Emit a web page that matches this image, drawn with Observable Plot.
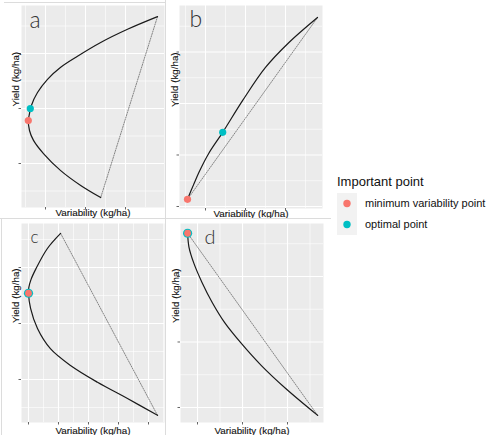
<!DOCTYPE html>
<html>
<head>
<meta charset="utf-8">
<script src="https://cdn.jsdelivr.net/npm/d3@7"></script>
<script src="https://cdn.jsdelivr.net/npm/@observablehq/plot@0.6"></script>
<style>
  html, body { margin: 0; padding: 0; background: #fff; }
  #chart { position: relative; width: 487px; height: 435px; font-family: "Liberation Sans", Arial, sans-serif; overflow: hidden; }
  .panel { position: absolute; }
  .panel svg { display: block; overflow: visible; }
  .vline { position: absolute; width: 1px; background: #dcdcdc; }
  .hline { position: absolute; height: 1px; background: #dcdcdc; }
  #legend { position: absolute; left: 337px; top: 174px; color: #111; }
  #legend .title { font-size: 13px; line-height: 16px; }
  #legend .row { position: absolute; left: 0; width: 160px; height: 21px; }
  #legend .key { position: absolute; left: 0; top: 0; width: 20px; height: 21px; background: #f2f2f2; }
  #legend .lab { position: absolute; left: 28px; top: 3px; font-size: 11px; line-height: 14px; white-space: nowrap; }
</style>
</head>
<body>
<div id="chart"></div>
<script>
// ---- Data (arbitrary units: variability on x, yield on y) ----
// Panel a
const aVariability = [2.8, 2.05, 1.38, 0.8, 0.38, 0.05, -0.2, -0.35, -0.41, -0.43, -0.4, -0.3, -0.05, 0.38, 0.88, 1.38];
const aYield       = [2.67, 2.44, 2.2, 1.95, 1.75, 1.53, 1.29, 1.06, 0.87, 0.78, 0.6, 0.42, 0.18, -0.13, -0.4, -0.62];
const aMinVar  = [-0.43, 0.78];
const aOptimal = [-0.38, 1.0];
// Panel b
const bVariability = [-0.45, -0.3, -0.16, 0.08, 0.43, 0.93, 1.5, 2.08, 2.8];
const bYield       = [0.14, 0.42, 0.67, 1.03, 1.44, 2.06, 2.7, 3.18, 3.67];
const bMinVar  = [-0.45, 0.14];
const bOptimal = [0.43, 1.44];
// Panel c
const cVariability = [1.07, 0.63, 0.25, 0.08, 0.01, 0, 0.07, 0.3, 0.73, 1.4, 2.3, 3.3, 4.3];
const cYield       = [2.61, 2.34, 1.98, 1.78, 1.64, 1.54, 1.27, 0.91, 0.55, 0.25, -0.05, -0.34, -0.64];
const cMinVar  = [0, 1.54];
const cOptimal = [0, 1.54];
// Panel d
const dVariability = [-0.22, -0.19, -0.08, 0.1, 0.33, 0.6, 0.96, 1.42, 1.96, 2.67];
const dYield       = [2.66, 2.45, 2.2, 1.91, 1.6, 1.3, 0.99, 0.64, 0.29, -0.12];
const dMinVar  = [-0.22, 2.66];
const dOptimal = [-0.22, 2.66];

// Tick values
const aXMajor = [0, 1, 2], aXMinor = [-0.5, 0.5, 1.5, 2.5];
const aYMajor = [0, 1, 2], aYMinor = [-0.5, 0.5, 1.5, 2.5];
const bXMajor = [0, 1, 2], bXMinor = [-0.5, 0.5, 1.5, 2.5];
const bYMajor = [0, 1, 2, 3], bYMinor = [0.5, 1.5, 2.5, 3.5];
const cXMajor = [0, 1, 2, 3, 4], cXMinor = [0.5, 1.5, 2.5, 3.5, 4.5];
const cYMajor = [0, 1, 2], cYMinor = [-0.5, 0.5, 1.5, 2.5];
const dXMajor = [0, 1, 2], dXMinor = [0.5, 1.5, 2.5];
const dYMajor = [0, 1, 2], dYMinor = [0.5, 1.5, 2.5];

const panelLetters = ["a", "b", "c", "d"];
const xTitle = "Variability (kg/ha)";
const yTitle = "Yield (kg/ha)";
const legendTitle = "Important point";
const legendLabels = ["minimum variability point", "optimal point"];
const colMin = "#F8766D", colOpt = "#00BFC4";

const panels = [
  {letter: panelLetters[0], vx: aVariability, vy: aYield, minVar: aMinVar, optimal: aOptimal,
   xMajor: aXMajor, xMinor: aXMinor, yMajor: aYMajor, yMinor: aYMinor,
   xDomain: [-0.6, 2.975], yDomain: [-0.8, 2.873],
   left: 0, top: 0, w: 165, h: 218, m: [5, 1, 11, 21],
   letterDx: 8, letterDy: 22, letterSize: 23, xTitleDy: 5, yTitleDx: -6, rOpt: 3.6, rMin: 3.6},
  {letter: panelLetters[1], vx: bVariability, vy: bYield, minVar: bMinVar, optimal: bOptimal,
   xMajor: bXMajor, xMinor: bXMinor, yMajor: bYMajor, yMinor: bYMinor,
   xDomain: [-0.65, 2.925], yDomain: [-0.039, 3.903],
   left: 165, top: 0, w: 165, h: 218, m: [5, 8, 10, 14],
   letterDx: 10, letterDy: 21, letterSize: 23, xTitleDy: 5, yTitleDx: -5, rOpt: 3.6, rMin: 3.6},
  {letter: panelLetters[2], vx: cVariability, vy: cYield, minVar: cMinVar, optimal: cOptimal,
   xMajor: cXMajor, xMinor: cXMinor, yMajor: cYMajor, yMinor: cYMinor,
   xDomain: [-0.233, 4.533], yDomain: [-0.768, 2.786],
   left: 0, top: 218, w: 165, h: 217, m: [5, 1, 13, 21],
   letterDx: 9, letterDy: 19, letterSize: 17, xTitleDy: 8, yTitleDx: -6, rOpt: 4.6, rMin: 3.4},
  {letter: panelLetters[3], vx: dVariability, vy: dYield, minVar: dMinVar, optimal: dOptimal,
   xMajor: dXMajor, xMinor: dXMinor, yMajor: dYMajor, yMinor: dYMinor,
   xDomain: [-0.378, 2.8], yDomain: [-0.229, 2.809],
   left: 165, top: 218, w: 165, h: 217, m: [5, 7, 13, 15],
   letterDx: 24, letterDy: 20, letterSize: 20, xTitleDy: 8, yTitleDx: -5, rOpt: 4.6, rMin: 3.4}
];

const chart = document.getElementById("chart");
const FONT = "Liberation Sans, Arial, sans-serif";

for (const p of panels) {
  const pts = p.vx.map((x, i) => ({x, y: p.vy[i]}));
  const ends = [pts[0], pts[pts.length - 1]];
  const minPt = [{x: p.minVar[0], y: p.minVar[1]}];
  const optPt = [{x: p.optimal[0], y: p.optimal[1]}];
  const svg = Plot.plot({
    width: p.w, height: p.h,
    marginTop: p.m[0], marginRight: p.m[1], marginBottom: p.m[2], marginLeft: p.m[3],
    x: {domain: p.xDomain},
    y: {domain: p.yDomain},
    style: {background: "transparent", fontFamily: FONT, overflow: "visible"},
    marks: [
      Plot.frame({fill: "#EBEBEB", stroke: "none"}),
      Plot.gridX({ticks: p.xMinor, stroke: "#ffffff", strokeOpacity: 1, strokeWidth: 0.6}),
      Plot.gridY({ticks: p.yMinor, stroke: "#ffffff", strokeOpacity: 1, strokeWidth: 0.6}),
      Plot.gridX({ticks: p.xMajor, stroke: "#ffffff", strokeOpacity: 1, strokeWidth: 1.1}),
      Plot.gridY({ticks: p.yMajor, stroke: "#ffffff", strokeOpacity: 1, strokeWidth: 1.1}),
      Plot.axisX({ticks: p.xMajor, tickSize: 2.5, tickFormat: () => "", label: null, stroke: "#666"}),
      Plot.axisY({ticks: p.yMajor, tickSize: 2.5, tickFormat: () => "", label: null, stroke: "#666"}),
      Plot.line(ends, {x: "x", y: "y", stroke: "#6a6a6a", strokeWidth: 0.8, strokeDasharray: "1.2,1.3"}),
      Plot.line(pts, {x: "x", y: "y", curve: "catmull-rom", stroke: "#1a1a1a", strokeWidth: 1.2}),
      Plot.dot(optPt, {x: "x", y: "y", r: p.rOpt, fill: colOpt, stroke: "none"}),
      Plot.dot(minPt, {x: "x", y: "y", r: p.rMin, fill: colMin, stroke: "none"}),
      Plot.text([p.letter], {frameAnchor: "top-left", dx: p.letterDx, dy: p.letterDy, textAnchor: "start",
        lineAnchor: "bottom", fontSize: p.letterSize, fontWeight: 300, fontFamily: "Lato, Liberation Sans, sans-serif", fill: "#333"}),
      Plot.text([xTitle], {frameAnchor: "bottom", dy: p.xTitleDy, lineAnchor: "middle", fontSize: 9.8,
        fill: "#111", stroke: "#111", strokeWidth: 0.12}),
      Plot.text([yTitle], {frameAnchor: "left", dx: p.yTitleDx, rotate: -90, lineAnchor: "middle", fontSize: 9.8,
        fill: "#111", stroke: "#111", strokeWidth: 0.12})
    ]
  });
  const div = document.createElement("div");
  div.className = "panel";
  div.style.left = p.left + "px";
  div.style.top = p.top + "px";
  div.appendChild(svg);
  chart.appendChild(div);
}

// faint frame lines around the sub-figures
const lines = [
  ["vline", {left: "165px", top: "0px", height: "435px"}],
  ["hline", {left: "0px", top: "218px", width: "331px"}],
  ["hline", {left: "4px", top: "2px", width: "161px"}],
  ["vline", {left: "1px", top: "218px", height: "217px"}]
];
for (const [cls, st] of lines) {
  const d = document.createElement("div");
  d.className = cls;
  Object.assign(d.style, st);
  chart.appendChild(d);
}

// Legend
const legend = document.createElement("div");
legend.id = "legend";
legend.innerHTML = `<div class="title">${legendTitle}</div>`;
[[colMin, legendLabels[0]], [colOpt, legendLabels[1]]].forEach(([c, t], i) => {
  const row = document.createElement("div");
  row.className = "row";
  row.style.top = (19 + i * 21) + "px";
  row.innerHTML = `<div class="key"><svg width="20" height="21"><circle cx="10" cy="10.5" r="3.7" fill="${c}"/></svg></div><div class="lab">${t}</div>`;
  legend.appendChild(row);
});
chart.appendChild(legend);
</script>
</body>
</html>
